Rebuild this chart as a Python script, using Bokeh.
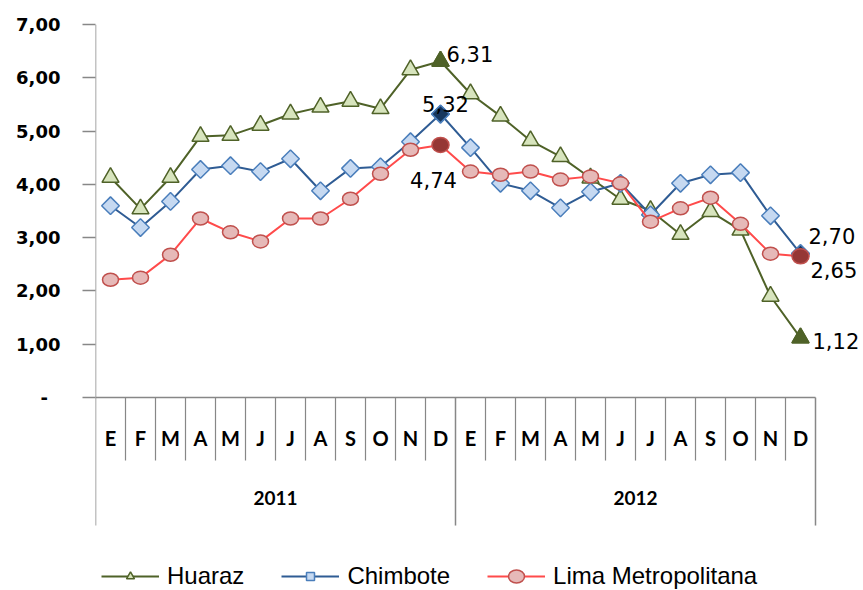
import math
from bokeh.plotting import figure
from bokeh.models import Range1d, FixedTicker, Legend, LegendItem, ColumnDataSource
from bokeh.core.properties import value
from bokeh.embed import file_html
from bokeh.resources import INLINE

months = ["E", "F", "M", "A", "M", "J", "J", "A", "S", "O", "N", "D"]
years = ["2011", "2012"]
series_names = ["Huaraz", "Chimbote", "Lima Metropolitana"]
huaraz = [4.13, 3.54, 4.13, 4.90, 4.92, 5.11, 5.32, 5.45, 5.56, 5.42, 6.15, 6.31,
          5.70, 5.28, 4.82, 4.52, 4.12, 3.72, 3.51, 3.06, 3.49, 3.14, 1.90, 1.12]
chimbote = [3.60, 3.19, 3.68, 4.28, 4.35, 4.24, 4.48, 3.88, 4.30, 4.33, 4.80, 5.32,
            4.69, 4.02, 3.88, 3.56, 3.86, 4.02, 3.43, 4.02, 4.18, 4.22, 3.41, 2.70]
lima = [2.21, 2.25, 2.68, 3.36, 3.10, 2.93, 3.36, 3.36, 3.73, 4.20, 4.65, 4.74,
        4.24, 4.18, 4.24, 4.09, 4.15, 4.02, 3.30, 3.55, 3.75, 3.26, 2.70, 2.65]
y_ticks = [0, 1, 2, 3, 4, 5, 6, 7]
y_tick_labels = ["-\u00a0\u00a0", "1,00", "2,00", "3,00", "4,00", "5,00", "6,00", "7,00"]

n = len(months) * len(years)
xs = [i + 0.5 for i in range(n)]

W, H = 863, 590
LEFT, TOP = 95, 24
PX_PER_UNIT = 53.29
frame_h = H - TOP
frame_w = W - LEFT
y_top = max(y_ticks)
y_bottom = y_top - frame_h / PX_PER_UNIT
x_right = frame_w / 30.0

p = figure(width=W, height=H, output_backend="svg", toolbar_location=None,
           x_range=Range1d(0, x_right), y_range=Range1d(y_bottom, y_top),
           x_axis_type=None, min_border_left=LEFT, min_border_top=TOP,
           min_border_right=0, min_border_bottom=0)
p.outline_line_color = None
p.xgrid.visible = False
p.ygrid.visible = False
p.background_fill_color = "white"
p.border_fill_color = "white"

axis_col = "#878787"
ya = p.yaxis[0]
ya.ticker = FixedTicker(ticks=y_ticks)
ya.major_label_overrides = {t: l for t, l in zip(y_ticks, y_tick_labels)}
ya.axis_line_color = None
ya.major_tick_line_color = axis_col
ya.major_tick_line_width = 1.5
ya.major_tick_out = 13
ya.major_tick_in = 0
ya.minor_tick_line_color = None
ya.major_label_standoff = 22
ya.major_label_text_font = "DejaVu Sans"
ya.major_label_text_font_style = "bold"
ya.major_label_text_font_size = "18px"
ya.major_label_text_color = "#000000"

# category axis geometry (in data units)
sep_month_bottom = -63 / PX_PER_UNIT
sep_year_bottom = -128 / PX_PER_UNIT
month_label_y = -40 / PX_PER_UNIT
year_label_y = -100 / PX_PER_UNIT

# axis lines
p.segment(x0=[0], y0=[sep_year_bottom], x1=[0], y1=[y_top], line_color=axis_col, line_width=1.5)
p.segment(x0=[0], y0=[0], x1=[n], y1=[0], line_color=axis_col, line_width=1.5)
msep = [k for k in range(1, n) if k % len(months) != 0]
p.segment(x0=msep, y0=[0] * len(msep), x1=msep, y1=[sep_month_bottom] * len(msep),
          line_color=axis_col, line_width=1.2)
ysep = [len(months) * (j + 1) for j in range(len(years))]
p.segment(x0=ysep, y0=[0] * len(ysep), x1=ysep, y1=[sep_year_bottom] * len(ysep),
          line_color=axis_col, line_width=1.5)

p.text(x=xs, y=[month_label_y] * n, text=months * len(years),
       text_font=value("Lato"), text_font_style="bold", text_font_size="20px",
       text_align="center", text_baseline="middle", text_color="#000000")
p.text(x=[len(months) * (j + 0.5) for j in range(len(years))], y=[year_label_y] * len(years),
       text=years, text_font=value("Lato"), text_font_style="bold", text_font_size="19px",
       text_align="center", text_baseline="middle", text_color="#000000")

# series
h_line = p.line(xs, huaraz, line_color="#4F6228", line_width=2)
h_mk = p.scatter(xs, huaraz, marker="triangle", size=17, fill_color="#D7E4BD",
                 line_color="#4F6228", line_width=1.5)
c_line = p.line(xs, chimbote, line_color="#2F5C94", line_width=2)
c_mk = p.scatter(xs, chimbote, marker="square", angle=math.pi / 4, size=12.5,
                 fill_color="#C6D9F1", line_color="#4A7EBB", line_width=1.5)
l_line = p.line(xs, lima, line_color="#FF4B4B", line_width=2)
l_mk = p.ellipse(xs, lima, width=16, height=13, width_units="screen", height_units="screen",
                 fill_color="#E6B9B8", line_color="#C0504D", line_width=1.5)

# highlighted December points
hi = [len(months) * (j + 1) - 1 for j in range(len(years))]
hx = [xs[i] for i in hi]
p.scatter(hx, [huaraz[i] for i in hi], marker="triangle", size=17, fill_color="#4F6228",
          line_color="#4F6228", line_width=1.5)
p.scatter(hx, [chimbote[i] for i in hi], marker="square", angle=math.pi / 4, size=12.5,
          fill_color="#17375E", line_color="#4A7EBB", line_width=1.5)
p.ellipse(hx, [lima[i] for i in hi], width=17, height=15, width_units="screen",
          height_units="screen", fill_color="#953735", line_color="#C0504D", line_width=1.5)

# data labels
def fmt(v):
    return f"{v:.2f}".replace(".", ",")

lab_x, lab_y, lab_t, lab_dx, lab_dy, lab_al = [], [], [], [], [], []
offsets = {
    ("h", 0): (6, -7, "left"), ("c", 0): (5, -10, "center"), ("l", 0): (-7, 35, "center"),
    ("h", 1): (12, 3, "left"), ("c", 1): (8, -18, "left"), ("l", 1): (10, 14, "left"),
}
for j, i in enumerate(hi):
    for key, arr in (("h", huaraz), ("c", chimbote), ("l", lima)):
        dx, dy, al = offsets[(key, j)]
        lab_x.append(xs[i]); lab_y.append(arr[i]); lab_t.append(fmt(arr[i]))
        lab_dx.append(dx); lab_dy.append(dy); lab_al.append(al)
src = ColumnDataSource(dict(x=lab_x, y=lab_y, t=lab_t, dx=lab_dx, dy=lab_dy, al=lab_al))
p.text(x="x", y="y", text="t", x_offset="dx", y_offset="dy", text_align="al", source=src,
       text_font=value("DejaVu Sans"), text_font_size="21px", text_baseline="middle",
       text_color="#000000")

legend = Legend(items=[
    LegendItem(label=series_names[0], renderers=[h_line, h_mk]),
    LegendItem(label=series_names[1], renderers=[c_line, c_mk]),
    LegendItem(label=series_names[2], renderers=[l_line, l_mk]),
], orientation="horizontal", location=(6, 0), glyph_width=58, glyph_height=20,
    label_standoff=8, spacing=37, padding=0, margin=0, border_line_color=None,
    background_fill_alpha=0, label_text_font="Liberation Sans", label_text_font_size="24px",
    label_text_color="#000000")
p.add_layout(legend)

open("out.html", "w").write(file_html(p, INLINE))
